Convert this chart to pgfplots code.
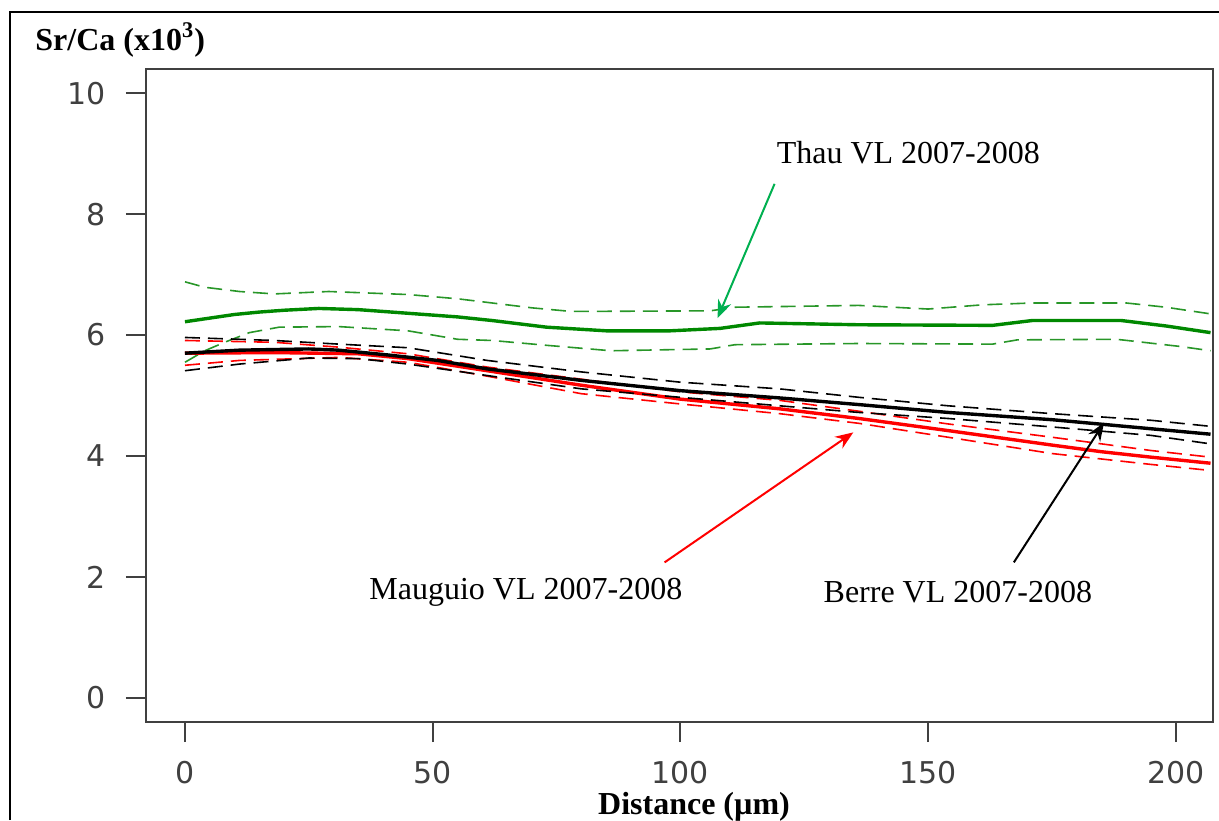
\documentclass[border=0pt]{standalone}
\usepackage{fontspec}
\setmainfont{Liberation Serif}
\newfontfamily\tickfont{DejaVu Sans}
\usepackage{pgfplots}
\pgfplotsset{compat=1.18}
\usetikzlibrary{arrows.meta}

\definecolor{axgray}{RGB}{64,64,64}
\definecolor{gsolid}{RGB}{0,136,0}
\definecolor{gdash}{RGB}{40,150,40}
\definecolor{garrow}{RGB}{0,176,80}

\begin{document}
\begin{tikzpicture}
\useasboundingbox (-73pt,-49pt) rectangle (536.5pt,361pt);
\begin{axis}[
  at={(0pt,0pt)}, anchor=south west,
  scale only axis, width=533.5pt, height=326.5pt,
  xmin=-7.87, xmax=207.5, ymin=-0.4, ymax=10.4,
  xtick={0,50,100,150,200}, ytick={0,2,4,6,8,10},
  tick align=outside, major tick length=10pt,
  xtick pos=bottom, ytick pos=left,
  axis line style={axgray, line width=1pt},
  every tick/.style={axgray, line width=1pt},
  tick label style={font=\tickfont\fontsize{15}{17}\selectfont, text=axgray},
  /pgf/number format/assume math mode=true,
  xticklabel shift=6pt, yticklabel shift=6.5pt,
  clip=true,
]
% Thau
\addplot[gsolid, line width=1.7pt] coordinates {
 (0,6.22)(5,6.28)(10,6.34)(15,6.38)(20,6.41)(27,6.44)(35,6.42)(45,6.36)(55,6.30)(62,6.24)
 (73,6.13)(85,6.07)(98,6.07)(108,6.11)(116,6.20)(136,6.17)(163,6.16)(171,6.24)(189,6.24)
 (198,6.15)(207,6.04)};
\addplot[gdash, line width=0.8pt, dash pattern=on 7.5pt off 4pt] coordinates {
 (0,6.88)(4,6.79)(11,6.72)(18,6.68)(29,6.72)(45,6.67)(55,6.60)(61,6.54)(70,6.45)(78,6.39)
 (106,6.40)(111,6.46)(136,6.49)(150,6.43)(161,6.50)(171,6.53)(190,6.53)(198,6.46)(207,6.35)};
\addplot[gdash, line width=0.8pt, dash pattern=on 7.5pt off 4pt] coordinates {
 (0,5.55)(4,5.74)(8,5.88)(13,6.04)(19,6.13)(31,6.14)(45,6.07)(55,5.93)(62,5.91)(73,5.83)
 (86,5.74)(106,5.77)(111,5.84)(136,5.86)(163,5.85)(168,5.92)(188,5.93)(201,5.81)(207,5.74)};
% Mauguio
\addplot[red, line width=0.8pt, dash pattern=on 7.5pt off 4pt] coordinates {
 (0,5.91)(18,5.88)(31,5.80)(45,5.69)(61,5.47)(80,5.27)(100,5.06)(120,4.92)(136,4.74)
 (154,4.53)(175,4.31)(195,4.09)(207,3.98)};
\addplot[red, line width=0.8pt, dash pattern=on 7.5pt off 4pt] coordinates {
 (0,5.50)(11,5.58)(31,5.63)(45,5.55)(61,5.32)(80,5.03)(100,4.86)(120,4.70)(136,4.54)
 (154,4.31)(175,4.04)(195,3.86)(207,3.76)};
\addplot[red, line width=1.7pt] coordinates {
 (0,5.70)(18,5.71)(35,5.69)(45,5.61)(61,5.41)(80,5.17)(100,4.94)(120,4.78)(136,4.62)
 (154,4.42)(175,4.18)(185,4.07)(195,3.98)(207,3.88)};
% Berre
\addplot[black, line width=0.8pt, dash pattern=on 7.5pt off 4pt] coordinates {
 (0,5.96)(18,5.91)(31,5.85)(45,5.79)(61,5.58)(80,5.39)(100,5.22)(120,5.11)(136,4.97)
 (154,4.83)(175,4.70)(195,4.59)(207,4.49)};
\addplot[black, line width=0.8pt, dash pattern=on 7.5pt off 4pt] coordinates {
 (0,5.41)(11,5.52)(25,5.62)(35,5.61)(45,5.52)(61,5.33)(80,5.11)(100,4.97)(120,4.83)
 (136,4.72)(154,4.62)(175,4.48)(195,4.34)(207,4.20)};
\addplot[black, line width=1.7pt] coordinates {
 (0,5.70)(11,5.75)(25,5.77)(31,5.75)(41,5.67)(51,5.58)(61,5.44)(80,5.25)(100,5.08)
 (120,4.96)(136,4.85)(154,4.72)(175,4.60)(195,4.45)(207,4.36)};

\draw[garrow, line width=1pt, -{Stealth[length=9pt,width=7pt]}] (axis cs:119,8.50) -- (axis cs:107.5,6.28);
\draw[red, line width=1pt, -{Stealth[length=9pt,width=7pt]}] (axis cs:96.8,2.24) -- (axis cs:134.9,4.39);
\draw[black, line width=1pt, -{Stealth[length=9pt,width=7pt]}] (axis cs:167.3,2.24) -- (axis cs:185.5,4.55);

\node[font=\fontsize{16}{18}\selectfont] at (axis cs:146,9.01) {Thau VL 2007-2008};
\node[font=\fontsize{16}{18}\selectfont] at (axis cs:68.8,1.75) {Mauguio VL 2007-2008};
\node[font=\fontsize{16}{18}\selectfont] at (axis cs:156,1.75) {Berre VL 2007-2008};
\end{axis}
\node[anchor=west, font=\bfseries\fontsize{16}{18}\selectfont, inner sep=0pt] at (-55.5pt,341pt) {Sr/Ca (x10\textsuperscript{3})};
\node[font=\bfseries\fontsize{16}{18}\selectfont, inner sep=0pt] at (274pt,-42.5pt) {Distance (µm)};
\draw[black, line width=1.2pt] (-68pt,-49pt) -- (-68pt,355pt) -- (536.5pt,355pt);
\end{tikzpicture}
\end{document}
